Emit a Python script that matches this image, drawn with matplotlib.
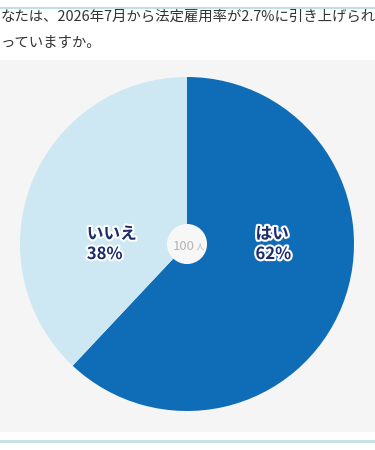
import matplotlib
matplotlib.use("Agg")
import matplotlib.pyplot as plt
import matplotlib.patheffects as pe
from matplotlib.patches import Circle, Rectangle

plt.rcParams['font.family'] = ['Noto Sans CJK JP', 'DejaVu Sans']

categories = ["はい", "いいえ"]
values = [62, 38]
colors = ["#0f6cb6", "#cde8f3"]
total_label = "100"
title_lines = ["なたは、2026年7月から法定雇用率が2.7%に引き上げられ",
               "っていますか。"]

W, H = 375, 450
fig = plt.figure(figsize=(W / 100, H / 100), dpi=100)
fig.patch.set_facecolor("white")

def fx(px):
    return px / W

def fy(py):
    return 1 - py / H

# background panel
fig.add_artist(Rectangle((0, fy(432)), 1, (432 - 60) / H, transform=fig.transFigure,
                         facecolor="#f5f5f5", edgecolor="none", zorder=0))
# top and bottom rules
fig.add_artist(plt.Line2D([0, 1], [fy(8), fy(8)], transform=fig.transFigure,
                          color="#c2dfe5", lw=1.5))
fig.add_artist(plt.Line2D([0, 1], [fy(441), fy(441)], transform=fig.transFigure,
                          color="#c2dfe5", lw=2))

# title
fig.text(fx(0.5), fy(17), title_lines[0], fontsize=10.4, color="#333333",
         va="center", ha="left")
fig.text(fx(0.5), fy(43), title_lines[1], fontsize=10.4, color="#333333",
         va="center", ha="left")

# pie
cx, cy, r = 187, 244, 167
ax = fig.add_axes([fx(cx - r), fy(cy + r), 2 * r / W, 2 * r / H])
wedges, _ = ax.pie(values, colors=colors, startangle=90, counterclock=False,
                   radius=1, wedgeprops=dict(linewidth=0))
ax.set_xlim(-1, 1)
ax.set_ylim(-1, 1)
ax.set_aspect("equal")
ax.axis("off")

stroke = [pe.withStroke(linewidth=3, foreground="white")]
label_x = [0.41, -0.6]
for cat, val, lx in zip(categories, values, label_x):
    ax.text(lx, 0.0, f"{cat}\n{val}%", fontsize=12, fontweight="bold",
            color="#1c2b6b", ha="left", va="center", linespacing=1.15,
            path_effects=stroke)

# center circle
ax.add_patch(Circle((0, 0), 0.12, facecolor="#f7f7f7", edgecolor="none", zorder=5))
ax.text(0.045, -0.035, total_label, fontsize=9.5, color="#b5b5b5", ha="right",
        va="baseline", zorder=6)
ax.text(0.05, -0.035, "人", fontsize=6, color="#b5b5b5", ha="left",
        va="baseline", zorder=6)

fig.savefig("out.png", dpi=100)
